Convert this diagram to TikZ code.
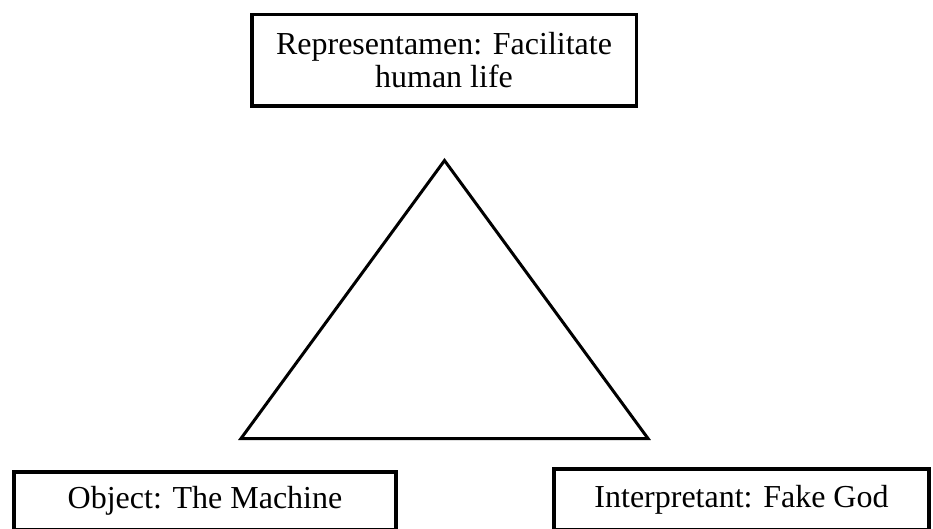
\documentclass[tikz,border=0pt]{standalone}
\usepackage{fontspec}
\setmainfont{Liberation Serif}
\begin{document}
\begin{tikzpicture}[x=1pt,y=-1pt,
        sign/.style={draw,line width=3.5pt,inner sep=0pt,align=center,font=\fontsize{32}{33}\selectfont}]
        \useasboundingbox (0,0) rectangle (933,529);
        \clip (0,0) rectangle (933,529);

        % Representamen
        \node[sign,minimum width=384.5,minimum height=91.5] (rep) at (444,60.5) {Representamen: Facilitate\\human life};

        % Triangle
        \coordinate (apex) at (444.5,160.5);
        \coordinate (left) at (241,438.5);
        \coordinate (right) at (648,438.5);
        \draw[line width=3pt] (apex) -- (left) -- (right) -- cycle;

        % Object and Interpretant
        \node[sign,minimum width=382,minimum height=58] (obj) at (205,501) {Object: The Machine};
        \node[sign,minimum width=375,minimum height=61] (interp) at (741.5,499.5) {Interpretant: Fake God};
    \end{tikzpicture}
\end{document}
